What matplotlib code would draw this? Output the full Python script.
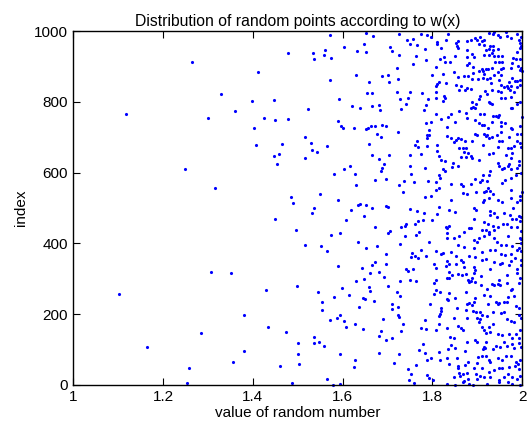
import numpy as np
import matplotlib
matplotlib.use('Agg')
import matplotlib.pyplot as plt

plt.rcParams['font.family'] = ['Liberation Sans', 'DejaVu Sans']

# (value of random number, index) pairs
pts_sparse = [
    (1.487, 4), (1.254, 6), (1.258, 49), (1.460, 54), (1.502, 58), (1.356, 64), (1.501, 86),
    (1.380, 95), (1.164, 107), (1.500, 119), (1.285, 147), (1.473, 150), (1.433, 163),
    (1.381, 199), (1.102, 258), (1.430, 269), (1.498, 279), (1.351, 316), (1.307, 319),
    (1.517, 395), (1.497, 439), (1.450, 470), (1.490, 513), (1.484, 530), (1.315, 557),
    (1.248, 610), (1.454, 623), (1.516, 642), (1.447, 646), (1.459, 653), (1.406, 677),
    (1.465, 682), (1.516, 701), (1.403, 725), (1.450, 748), (1.479, 752), (1.425, 753),
    (1.299, 754), (1.118, 767), (1.361, 774), (1.522, 781), (1.399, 802), (1.448, 805),
    (1.330, 823), (1.412, 883), (1.265, 913), (1.479, 937),
]

pts_mid_top = [
    (1.572, 989), (1.652, 995), (1.668, 986), (1.726, 991), (1.743, 975), (1.756, 977),
    (1.766, 962), (1.750, 964), (1.533, 939), (1.537, 920), (1.561, 946), (1.558, 932),
    (1.574, 925), (1.604, 954), (1.632, 943), (1.648, 963), (1.651, 940), (1.705, 956),
    (1.711, 943), (1.726, 933), (1.763, 929), (1.756, 907), (1.720, 896), (1.629, 877),
    (1.571, 862), (1.659, 857), (1.688, 872), (1.702, 875), (1.704, 855), (1.723, 865),
    (1.721, 829), (1.749, 829), (1.654, 824), (1.665, 825), (1.592, 808), (1.728, 809),
    (1.746, 811), (1.621, 787), (1.639, 782), (1.666, 787), (1.680, 791), (1.684, 776),
    (1.731, 780), (1.741, 793), (1.590, 746), (1.597, 733), (1.601, 727), (1.625, 726),
    (1.652, 722), (1.656, 726), (1.663, 732), (1.673, 733), (1.688, 736), (1.697, 731),
    (1.677, 710), (1.685, 700), (1.723, 716), (1.529, 685), (1.532, 664), (1.542, 659),
    (1.564, 675), (1.659, 681), (1.766, 690), (1.762, 678), (1.767, 673), (1.665, 649),
    (1.680, 638), (1.691, 625), (1.688, 613), (1.685, 606), (1.704, 651), (1.750, 651),
    (1.749, 619), (1.752, 596), (1.616, 618), (1.604, 609), (1.581, 595), (1.628, 595),
    (1.671, 578), (1.697, 583), (1.630, 564), (1.726, 564), (1.736, 577), (1.760, 574),
    (1.735, 546), (1.550, 539), (1.590, 522), (1.537, 500), (1.618, 495), (1.634, 509),
    (1.639, 510), (1.651, 508), (1.665, 501), (1.697, 505), (1.701, 503), (1.750, 496),
]

pts_mid_bottom = [
    (1.766, 492), (1.531, 487), (1.648, 476), (1.607, 465), (1.573, 425), (1.595, 430),
    (1.671, 445), (1.702, 430), (1.705, 436), (1.730, 446), (1.739, 450), (1.742, 454),
    (1.762, 456), (1.768, 462), (1.739, 422), (1.763, 424), (1.552, 392), (1.566, 379),
    (1.635, 405), (1.651, 388), (1.677, 393), (1.727, 397), (1.697, 370), (1.754, 374),
    (1.752, 362), (1.762, 364), (1.768, 360), (1.590, 337), (1.643, 331), (1.673, 346),
    (1.666, 338), (1.697, 343), (1.660, 317), (1.681, 320), (1.648, 300), (1.630, 293),
    (1.693, 304), (1.728, 294), (1.740, 329), (1.746, 322), (1.756, 328), (1.749, 297),
    (1.764, 295), (1.599, 273), (1.700, 280), (1.659, 277), (1.660, 266), (1.721, 264),
    (1.728, 251), (1.613, 255), (1.581, 249), (1.545, 263), (1.646, 246), (1.649, 243),
    (1.669, 238), (1.710, 229), (1.723, 220), (1.709, 215), (1.555, 234), (1.555, 211),
    (1.637, 221), (1.593, 199), (1.587, 189), (1.602, 181), (1.571, 183), (1.607, 165),
    (1.627, 173), (1.645, 157), (1.689, 186), (1.723, 197), (1.726, 192), (1.734, 171),
    (1.685, 153), (1.681, 138), (1.697, 127), (1.709, 134), (1.730, 151), (1.537, 136),
    (1.537, 118), (1.547, 121), (1.558, 110), (1.595, 88), (1.628, 71), (1.626, 50),
    (1.680, 89), (1.725, 87), (1.715, 61), (1.745, 46), (1.753, 31), (1.763, 57),
    (1.747, 15), (1.760, 5), (1.566, 17), (1.578, 1), (1.593, 2),
]

pts_dense_top = [
    (1.775, 991), (1.789, 990), (1.796, 984), (1.835, 993), (1.858, 971), (1.853, 966),
    (1.810, 969), (1.811, 963), (1.830, 976), (1.784, 950), (1.818, 952), (1.854, 957),
    (1.856, 952), (1.878, 973), (1.878, 946), (1.786, 917), (1.817, 921), (1.826, 926),
    (1.827, 914), (1.839, 913), (1.850, 931), (1.878, 927), (1.881, 910), (1.878, 905),
    (1.808, 899), (1.798, 875), (1.823, 880), (1.848, 885), (1.856, 870), (1.870, 873),
    (1.879, 873), (1.815, 856), (1.811, 850), (1.807, 846), (1.830, 853), (1.853, 848),
    (1.860, 834), (1.863, 846), (1.873, 833), (1.878, 839), (1.808, 827), (1.777, 826),
    (1.790, 809), (1.807, 812), (1.823, 803), (1.826, 816), (1.827, 810), (1.786, 792),
    (1.781, 776), (1.808, 765), (1.818, 752), (1.835, 756), (1.841, 767), (1.859, 773),
    (1.875, 769), (1.878, 754), (1.786, 741), (1.796, 743), (1.832, 729), (1.851, 742),
    (1.793, 720), (1.789, 705), (1.793, 707), (1.787, 697), (1.833, 704), (1.841, 697),
    (1.853, 692), (1.856, 699), (1.847, 686), (1.863, 694), (1.872, 688), (1.789, 675),
    (1.810, 678), (1.859, 671), (1.867, 671), (1.875, 669),
    (1.886, 975), (1.894, 980), (1.900, 975), (1.907, 982), (1.910, 971), (1.914, 976),
    (1.926, 995), (1.935, 993), (1.938, 997), (1.946, 988), (1.950, 982), (1.963, 997),
    (1.966, 986), (1.975, 980), (1.989, 992), (1.993, 976), (1.996, 967), (1.998, 984),
    (1.904, 963), (1.914, 961), (1.929, 958), (1.934, 959), (1.920, 946), (1.926, 950),
    (1.935, 946), (1.946, 950), (1.989, 942), (1.996, 952), (1.998, 959), (1.889, 935),
    (1.892, 926), (1.914, 933), (1.926, 933), (1.932, 937), (1.937, 929), (1.947, 929),
    (1.956, 929), (1.940, 914), (1.949, 912), (1.955, 914), (1.980, 924), (1.986, 922),
    (1.978, 910), (1.996, 922), (1.891, 899), (1.911, 893), (1.919, 893), (1.923, 892),
    (1.932, 895), (1.904, 888), (1.913, 886), (1.953, 892), (1.958, 895), (1.974, 897),
    (1.990, 901), (1.996, 890), (1.999, 886), (1.998, 897), (1.891, 882), (1.916, 878),
    (1.938, 875), (1.946, 884), (1.952, 875), (1.889, 865), (1.901, 865), (1.913, 867),
    (1.922, 865), (1.929, 867), (1.949, 861), (1.977, 867), (1.971, 856), (1.984, 860),
    (1.989, 858), (1.996, 863), (1.931, 852), (1.952, 848), (1.960, 841), (1.966, 844),
    (1.968, 839), (1.974, 846), (1.972, 833), (1.989, 841), (1.996, 848), (1.885, 835),
    (1.917, 831), (1.932, 833), (1.946, 831), (1.953, 827), (1.907, 816), (1.903, 809),
    (1.922, 822), (1.926, 801), (1.929, 797), (1.932, 795), (1.889, 801), (1.897, 793),
    (1.886, 784), (1.891, 786), (1.894, 784), (1.952, 810), (1.962, 812), (1.974, 814),
    (1.981, 827), (1.974, 784), (1.978, 782), (1.989, 795), (1.995, 801), (1.907, 765),
    (1.914, 767), (1.934, 760), (1.941, 761), (1.946, 758), (1.949, 763), (1.894, 750),
    (1.911, 735), (1.916, 735), (1.904, 741), (1.923, 726), (1.932, 743), (1.952, 744),
    (1.962, 739), (1.974, 727), (1.977, 724), (1.995, 733), (1.999, 758), (1.953, 731),
    (1.894, 709), (1.900, 707), (1.916, 710), (1.922, 707), (1.919, 703), (1.932, 701),
    (1.925, 699), (1.944, 707), (1.952, 714), (1.971, 701), (1.989, 709), (1.998, 710),
    (1.889, 688), (1.913, 678), (1.949, 688), (1.955, 690), (1.947, 673), (1.969, 669),
    (1.975, 669), (1.981, 675), (1.989, 688), (1.996, 684), (1.998, 673),
]

pts_dense_middle = [
    (1.775, 654), (1.811, 661), (1.814, 648), (1.818, 635), (1.829, 633), (1.870, 658),
    (1.879, 656), (1.863, 643), (1.875, 643), (1.845, 626), (1.844, 616), (1.856, 620),
    (1.784, 614), (1.824, 611), (1.827, 605), (1.814, 592), (1.817, 584), (1.807, 573),
    (1.790, 577), (1.815, 556), (1.807, 552), (1.842, 569), (1.863, 569), (1.869, 563),
    (1.867, 543), (1.878, 539), (1.784, 531), (1.796, 535), (1.842, 524), (1.815, 503),
    (1.781, 486), (1.836, 495), (1.850, 490), (1.810, 482), (1.780, 465), (1.799, 467),
    (1.838, 450), (1.833, 443), (1.830, 445), (1.771, 433), (1.833, 428), (1.833, 414),
    (1.848, 416), (1.859, 420), (1.870, 431), (1.881, 443), (1.793, 403), (1.774, 382),
    (1.856, 395), (1.870, 390), (1.807, 379), (1.820, 371), (1.823, 373), (1.842, 375),
    (1.853, 365), (1.786, 365), (1.833, 350), (1.836, 343), (1.863, 354), (1.869, 348),
    (1.881, 365), (1.804, 343), (1.807, 330), (1.830, 335), (1.853, 341), (1.870, 333),
    (1.888, 641), (1.885, 646), (1.904, 635), (1.926, 654), (1.934, 656), (1.965, 650),
    (1.978, 656), (1.974, 641), (1.971, 624), (1.968, 618), (1.949, 620), (1.946, 628),
    (1.955, 611), (1.960, 612), (1.975, 611), (1.993, 633), (1.993, 622), (1.989, 612),
    (1.998, 599), (1.929, 605), (1.926, 594), (1.913, 592), (1.911, 580), (1.922, 577),
    (1.894, 582), (1.886, 567), (1.907, 573), (1.923, 556), (1.919, 548), (1.914, 546),
    (1.929, 548), (1.935, 539), (1.897, 545), (1.916, 522), (1.913, 518), (1.926, 528),
    (1.946, 522), (1.956, 518), (1.956, 571), (1.962, 578), (1.974, 584), (1.987, 594),
    (1.974, 552), (1.975, 528), (1.989, 516), (1.995, 522), (1.996, 533), (1.999, 546),
    (1.980, 501), (1.892, 499), (1.897, 495), (1.928, 492), (1.929, 480), (1.937, 486),
    (1.943, 475), (1.959, 486), (1.972, 480), (1.977, 469), (1.986, 469), (1.992, 477),
    (1.998, 475), (1.996, 462), (1.892, 469), (1.886, 443), (1.916, 460), (1.923, 456),
    (1.935, 448), (1.919, 437), (1.911, 437), (1.926, 431), (1.925, 426), (1.938, 437),
    (1.946, 445), (1.957, 454), (1.966, 456), (1.974, 445), (1.989, 446), (1.998, 435),
    (1.968, 422), (1.996, 414), (1.904, 414), (1.914, 420), (1.938, 414), (1.892, 409),
    (1.900, 403), (1.944, 403), (1.953, 396), (1.965, 396), (1.977, 394), (1.992, 388),
    (1.998, 411), (1.998, 401), (1.892, 386), (1.910, 375), (1.929, 380), (1.940, 380),
    (1.952, 371), (1.962, 367), (1.975, 369), (1.989, 380), (1.998, 379), (1.895, 362),
    (1.911, 354), (1.919, 356), (1.937, 348), (1.955, 345), (1.974, 350), (1.984, 358),
    (1.998, 354), (1.892, 333), (1.928, 329), (1.950, 343), (1.971, 339), (1.989, 329),
    (1.998, 339),
]

pts_dense_bottom = [
    (1.804, 288), (1.808, 296), (1.833, 301), (1.836, 303), (1.838, 320), (1.844, 311),
    (1.857, 313), (1.866, 311), (1.875, 313), (1.879, 296), (1.881, 290), (1.817, 262),
    (1.808, 267), (1.804, 258), (1.838, 260), (1.832, 243), (1.835, 239), (1.850, 245),
    (1.875, 264), (1.878, 228), (1.881, 232), (1.795, 230), (1.820, 216), (1.818, 209),
    (1.817, 201), (1.815, 196), (1.854, 216), (1.875, 211), (1.878, 190), (1.784, 184),
    (1.774, 162), (1.786, 158), (1.807, 154), (1.815, 171), (1.832, 160), (1.847, 188),
    (1.857, 167), (1.863, 160), (1.869, 154), (1.839, 135), (1.848, 132), (1.878, 122),
    (1.780, 115), (1.771, 98), (1.784, 90), (1.815, 92), (1.835, 101), (1.842, 113),
    (1.850, 105), (1.873, 96), (1.796, 75), (1.789, 69), (1.817, 69), (1.832, 75),
    (1.854, 77), (1.836, 58), (1.856, 54), (1.857, 49), (1.872, 56), (1.879, 66),
    (1.878, 35), (1.869, 32), (1.862, 26), (1.859, 34), (1.847, 22), (1.870, 11),
    (1.867, 7), (1.789, 28), (1.792, 20), (1.801, 13), (1.833, 3), (1.850, 1),
    (1.879, 16), (1.881, 3),
    (1.892, 315), (1.908, 309), (1.895, 324), (1.966, 311), (1.989, 315), (1.886, 294),
    (1.895, 292), (1.888, 301), (1.908, 281), (1.922, 271), (1.932, 284), (1.938, 281),
    (1.947, 286), (1.950, 282), (1.949, 296), (1.966, 288), (1.977, 271), (1.974, 267),
    (1.992, 288), (1.996, 301), (1.914, 254), (1.929, 252), (1.895, 245), (1.892, 235),
    (1.888, 226), (1.923, 228), (1.941, 235), (1.946, 228), (1.949, 232), (1.960, 233),
    (1.966, 235), (1.969, 248), (1.981, 250), (1.986, 224), (1.993, 218), (1.891, 209),
    (1.897, 207), (1.905, 205), (1.911, 198), (1.900, 190), (1.903, 179), (1.907, 186),
    (1.922, 194), (1.935, 205), (1.953, 203), (1.959, 205), (1.966, 186), (1.974, 181),
    (1.981, 179), (1.993, 198), (1.998, 188), (1.910, 164), (1.914, 156), (1.925, 164),
    (1.929, 150), (1.934, 173), (1.920, 147), (1.946, 145), (1.955, 141), (1.971, 145),
    (1.977, 132), (1.986, 145), (1.993, 133), (1.996, 154), (1.895, 128), (1.900, 122),
    (1.919, 122), (1.914, 107), (1.917, 103), (1.913, 101), (1.935, 101), (1.941, 111),
    (1.950, 107), (1.960, 120), (1.966, 111), (1.977, 115), (1.981, 105), (1.993, 118),
    (1.998, 107), (1.901, 79), (1.911, 81), (1.920, 83), (1.925, 71), (1.929, 66),
    (1.947, 77), (1.955, 71), (1.965, 83), (1.974, 83), (1.986, 66), (1.990, 60),
    (1.996, 69), (1.900, 62), (1.892, 47), (1.910, 47), (1.926, 37), (1.937, 41),
    (1.949, 47), (1.955, 47), (1.971, 50), (1.984, 54), (1.993, 45), (1.897, 30),
    (1.900, 18), (1.905, 26), (1.914, 22), (1.929, 22), (1.949, 15), (1.959, 22),
    (1.968, 30), (1.978, 22), (1.989, 17), (1.996, 26), (1.891, 1), (1.922, 3),
    (1.949, 9), (1.969, 9), (1.978, 3), (1.996, 1),
]

x_ticks = [1, 1.2, 1.4, 1.6, 1.8, 2]
x_tick_labels = ['1', '1.2', '1.4', '1.6', '1.8', '2']
y_ticks = [0, 200, 400, 600, 800, 1000]

pts = np.array(pts_sparse + pts_mid_top + pts_mid_bottom
               + pts_dense_top + pts_dense_middle + pts_dense_bottom)
xv, iv = pts[:, 0], pts[:, 1]

fig = plt.figure(figsize=(5.28, 4.32), dpi=100)
ax = fig.add_axes([0.139, 0.109, 0.850, 0.819])
ax.plot(xv, iv, '.', color='b', markersize=2.5, clip_on=False)

ax.set_xlim(1, 2)
ax.set_ylim(0, 1000)
ax.set_xticks(x_ticks)
ax.set_xticklabels(x_tick_labels)
ax.set_yticks(y_ticks)
ax.tick_params(direction='in', top=True, right=True, length=5, width=0.8,
               labelsize=11, pad=4)
for s in ax.spines.values():
    s.set_linewidth(1.0)

ax.set_title('Distribution of random points according to w(x)', fontsize=11.3, pad=4)
ax.set_xlabel('value of random number', fontsize=11, labelpad=1)
ax.set_ylabel('index', fontsize=11, labelpad=4)

fig.savefig('out.png', dpi=100)
